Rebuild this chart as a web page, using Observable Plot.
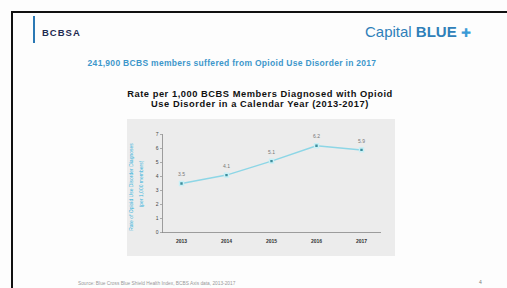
<!DOCTYPE html>
<html>
<head>
<meta charset="utf-8">
<script src="https://cdn.jsdelivr.net/npm/d3@7"></script>
<script src="https://cdn.jsdelivr.net/npm/@observablehq/plot@0.6"></script>
<style>
  html, body { margin: 0; padding: 0; background: #ffffff; }
  #slide { position: relative; width: 507px; height: 288px; overflow: hidden; font-family: "Liberation Sans", Arial, sans-serif; background: #fdfdfd; }
  .abs { position: absolute; white-space: nowrap; }
  #plot { position: absolute; left: 0; top: 0; }
</style>
</head>
<body>
<div id="slide">
  <div class="abs" style="left:11px;top:11px;width:600px;height:1.5px;background:#111;"></div>
  <div class="abs" style="left:11px;top:11px;width:1.5px;height:300px;background:#111;"></div>
  <div class="abs" style="left:33px;top:16px;width:2px;height:27px;background:#2a78b4;"></div>
  <div class="abs" style="left:42px;top:27px;font-size:9.5px;font-weight:900;color:#1d2b52;letter-spacing:1px;">BCBSA</div>
  <div class="abs" style="left:365px;top:23px;font-size:15px;color:#2f80b9;">Capital <b>BLUE</b>&nbsp;<span style="font-size:12px;color:#3a9ad6;">&#10010;</span></div>
  <div class="abs" id="sub" style="left:0;width:464px;text-align:center;top:58px;font-size:8.5px;font-weight:600;letter-spacing:0.3px;color:#3d97cb;"></div>
  <div class="abs" id="title" style="left:0;width:520px;text-align:center;top:89px;font-size:9.3px;font-weight:bold;letter-spacing:0.55px;line-height:10px;color:#111;"></div>
  <div class="abs" style="left:127px;top:119px;width:268px;height:137px;background:#ececec;"></div>
  <div class="abs" id="yl1" style="left:131px;top:187px;font-size:5px;color:#3ab4dc;transform:translate(-50%,-50%) rotate(-90deg);"></div>
  <div class="abs" id="yl2" style="left:141px;top:184px;font-size:5px;color:#3ab4dc;transform:translate(-50%,-50%) rotate(-90deg);"></div>
  <div class="abs" id="foot" style="left:78px;top:281px;font-size:4.8px;color:#999;"></div>
  <div class="abs" style="left:479px;top:279px;font-size:5px;color:#777;">4</div>
  <div id="plot"></div>
</div>
<script>
const headerText = "241,900 BCBS members suffered from Opioid Use Disorder in 2017";
const titleLines = ["Rate per 1,000 BCBS Members Diagnosed with Opioid", "Use Disorder in a Calendar Year (2013-2017)"];
const yLabelLines = ["Rate of Opioid Use Disorder Diagnoses", "(per 1,000 members)"];
const footnote = "Source: Blue Cross Blue Shield Health Index, BCBS Axis data, 2013-2017";
const years = ["2013", "2014", "2015", "2016", "2017"];
const rates = [3.5, 4.1, 5.1, 6.2, 5.9];
const yTicks = [0, 1, 2, 3, 4, 5, 6, 7];

document.getElementById("sub").textContent = headerText;
document.getElementById("title").innerHTML = titleLines.join("<br>");
document.getElementById("yl1").textContent = yLabelLines[0];
document.getElementById("yl2").textContent = yLabelLines[1];
document.getElementById("foot").textContent = footnote;

const data = years.map((y, i) => ({year: y, rate: rates[i]}));

const chart = Plot.plot({
  width: 507,
  height: 288,
  marginLeft: 162,
  marginRight: 127,
  marginTop: 134,
  marginBottom: 56,
  style: {background: "transparent", fontFamily: "Liberation Sans, Arial, sans-serif"},
  x: {type: "point", domain: years, padding: 0.42, label: null},
  y: {domain: [0, 7], label: null},
  marks: [
    Plot.axisY({ticks: yTicks, tickFormat: d3.format("d"), tickSize: 2, tickPadding: 2, fontSize: 5, fill: "#444", stroke: "#aaa"}),
    Plot.axisX({tickSize: 0, tickPadding: 7, fontSize: 5, fontWeight: "bold", fill: "#333"}),
    Plot.frame({anchor: "left", stroke: "#888", strokeWidth: 0.8}),
    Plot.frame({anchor: "bottom", stroke: "#888", strokeWidth: 0.8}),
    Plot.line(data, {x: "year", y: "rate", stroke: "#8dd6e6", strokeWidth: 1.5}),
    Plot.dot(data, {x: "year", y: "rate", r: 2.2, symbol: "square", fill: "#3c8c9c", stroke: "#c8f0f6", strokeWidth: 1.5}),
    Plot.text(data, {x: "year", y: "rate", text: d => d.rate.toFixed(1), dy: -9, fontSize: 5, fill: "#777"})
  ]
});
document.getElementById("plot").appendChild(chart);
</script>
</body>
</html>
